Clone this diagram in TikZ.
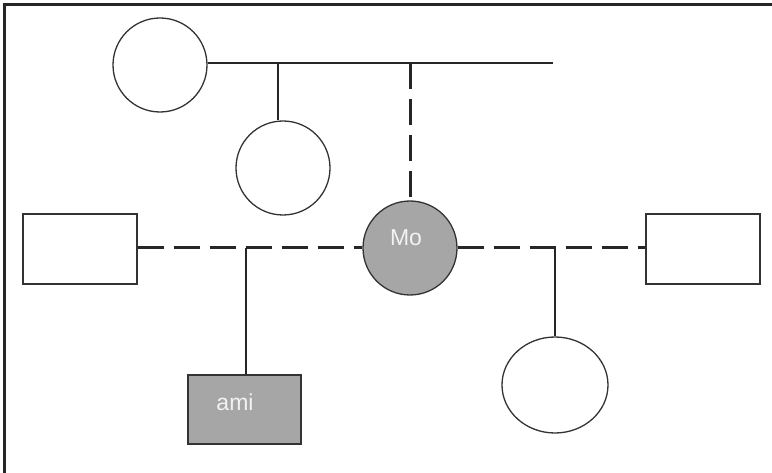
\documentclass[tikz,border=0pt]{standalone}
\usepackage{fontspec}
\setmainfont{Liberation Sans}
\usetikzlibrary{shapes.geometric}
\begin{document}
\begin{tikzpicture}[x=1pt,y=-1pt,
  person/.style={draw=black!80, line width=1.3pt, inner sep=0pt},
  female/.style={person, circle, minimum size=94pt},
  male/.style={person, rectangle, minimum width=114pt, minimum height=70pt},
  marked/.style={fill=black!35},
  kin/.style={draw=black!85, line width=1.3pt},
  looselink/.style={draw=black!85, line width=3pt, dash pattern=on 26pt off 10pt},
  tag/.style={text=white!95!black, font=\fontsize{23}{23}\selectfont}
]
\useasboundingbox (0,0) rectangle (772,473);
% frame edges
\draw[black!85, line width=3pt] (4.5,473) -- (4.5,4.5) -- (772,4.5);

% people
\node[female] (gm) at (160,65) {};
\node[female] (sis) at (283,168) {};
\node[female, marked] (mo) at (410,248) {};
\node[male] (lf) at (80,249) {};
\node[male] (rf) at (703,249) {};
\node[male, marked, minimum width=113pt, minimum height=69pt] (ami) at (244.5,409.5) {};
\node[person, ellipse, minimum width=106pt, minimum height=96pt] (ch) at (555,385) {};
\node[tag] (motxt) at (406,238) {Mo};
\node[tag] (amitxt) at (235,402) {ami};

% connectors
\coordinate (topend) at (553,63);
\coordinate (t1) at (278,63);
\coordinate (t2) at (410,63);
\coordinate (d1) at (246,248);
\coordinate (d2) at (555,248);
\draw[kin] (gm.east |- topend) -- (topend);
\draw[kin] (t1) -- (t1 |- sis.north);
\draw[looselink] (t2) -- (mo.north);
\draw[looselink] (lf.east |- mo) -- (mo.west);
\draw[looselink] (mo.east) -- (rf.west |- mo);
\draw[kin] (d1) -- (ami.north -| d1);
\draw[kin] (d2) -- (ch.north);
\end{tikzpicture}
\end{document}
